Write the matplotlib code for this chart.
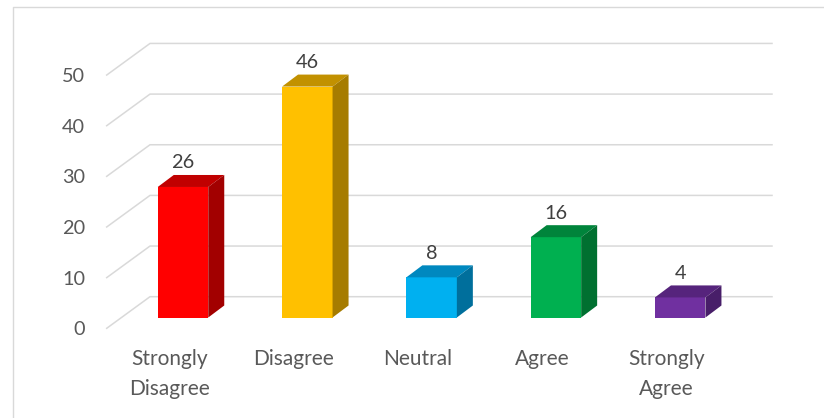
import numpy as np
import matplotlib
matplotlib.use("Agg")
import matplotlib.pyplot as plt
from matplotlib.patches import Polygon
from matplotlib.lines import Line2D

# ======================================
# Data
# ======================================

categories = ["Strongly\nDisagree", "Disagree", "Neutral", "Agree", "Strongly\nAgree"]
values = [26, 46, 8, 16, 4]
y_ticks = [0, 10, 20, 30, 40, 50]

front_colors = ["#FF0000", "#FFC000", "#00B0F0", "#00B050", "#7030A0"]
top_colors = ["#C00000", "#C29100", "#0088BF", "#00843B", "#56247C"]
side_colors = ["#A20000", "#A67C00", "#006F9C", "#007030", "#481E69"]

plt.rcParams["font.family"] = ["Lato", "DejaVu Sans"]

# ======================================
# Layout (pixel measures -> data units)
# ======================================

W, H = 824, 418
px_cat = 124.3      # pixels per category
x0_px = 183.0       # centre of first bar
px_val = 5.02       # pixels per value unit
base_px = 317.5     # bar bottom from top

fig = plt.figure(figsize=(W / 100, H / 100), dpi=100)
ax = fig.add_axes([0, 0, 1, 1])
ax.set_xlim(-x0_px / px_cat, (W - x0_px) / px_cat)
ax.set_ylim(-(H - base_px) / px_val, base_px / px_val)
ax.axis("off")

def px_x(p):
    return (p - x0_px) / px_cat

def px_y(p):
    return (base_px - p) / px_val

half_w = 25.25 / px_cat
dx = 16 / px_cat
dy = 12 / px_val
half_digit = 7 / px_val   # baseline shift so digits sit centred

grid_color = "#D9D9D9"
num_size = 14.3

# chart frame (left + top edges)
ax.add_line(Line2D([px_x(13), px_x(13), px_x(W + 5)],
                   [px_y(H + 5), px_y(7), px_y(7)],
                   color=grid_color, linewidth=1.0))

# ======================================
# Gridlines in perspective
# ======================================

back_left = px_x(150)
back_right = px_x(772)
front_left = px_x(106.7)
back_off = px_y(296.7)
front_off = px_y(328.3)
scale = 1.009

for t in y_ticks:
    yb = back_off + t * scale
    yf = front_off + t * scale
    ax.plot([front_left, back_left, back_right], [yf, yb, yb],
            color=grid_color, linewidth=1.1, zorder=1)
    ax.text(px_x(85), yf - half_digit, str(t), ha="right", va="baseline",
            fontsize=num_size, color="#595959")

# ======================================
# 3D bars
# ======================================

for i, v in enumerate(values):
    xl, xr = i - half_w, i + half_w
    front = Polygon([(xl, 0), (xr, 0), (xr, v), (xl, v)],
                    closed=True, facecolor=front_colors[i], edgecolor="none", zorder=3)
    top = Polygon([(xl, v), (xr, v), (xr + dx, v + dy), (xl + dx, v + dy)],
                  closed=True, facecolor=top_colors[i], edgecolor="none", zorder=3)
    side = Polygon([(xr, 0), (xr + dx, dy), (xr + dx, v + dy), (xr, v)],
                   closed=True, facecolor=side_colors[i], edgecolor="none", zorder=3)
    ax.add_patch(front)
    ax.add_patch(top)
    ax.add_patch(side)
    ax.text(i, v + 25.5 / px_val - half_digit, str(v), ha="center", va="baseline",
            fontsize=num_size, color="#404040", zorder=4)

# category labels along the front edge
for i, lab in enumerate(categories):
    lx = px_x(169.5 + 124.3 * i)
    ax.text(lx, px_y(349), lab, ha="center", va="top", multialignment="center",
            fontsize=15, color="#595959", linespacing=1.6)

fig.savefig("out.png", dpi=100)
